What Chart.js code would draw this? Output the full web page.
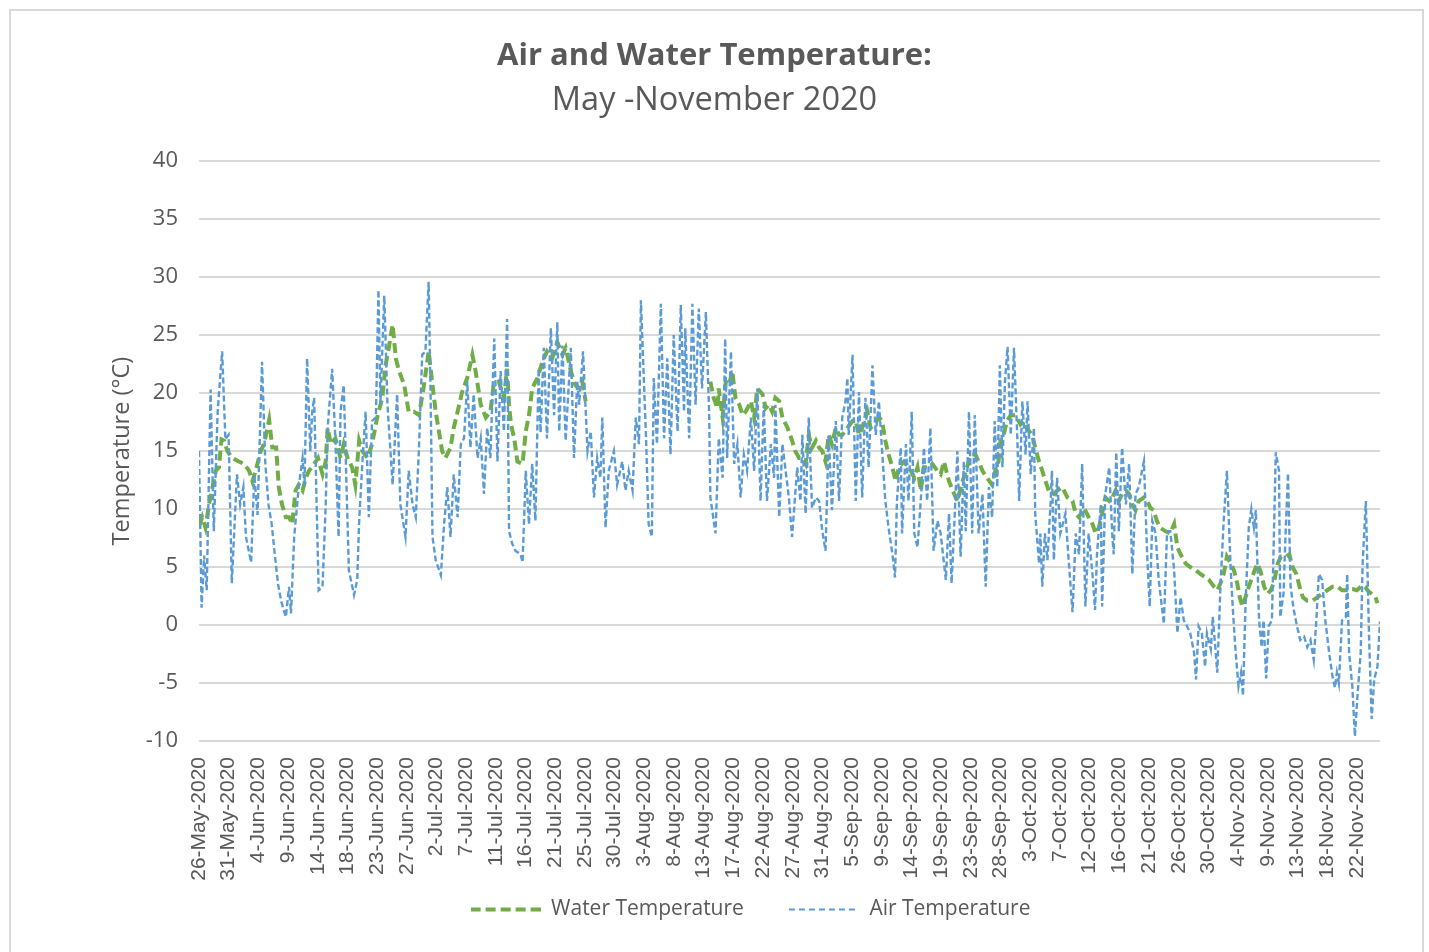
<!DOCTYPE html>
<html>
<head>
<meta charset="utf-8">
<title>Air and Water Temperature</title>
<script src="https://cdn.jsdelivr.net/npm/chart.js@4.4.1/dist/chart.umd.min.js"></script>
<style>
  html, body { margin: 0; padding: 0; background: #fff; overflow: hidden; }
  canvas { position: absolute; left: 0; top: 0; }
  #frame { position: absolute; left: 9px; top: 9px; width: 1415px; height: 980px;
           border: 2px solid #d9d9d9; box-sizing: border-box; pointer-events: none; }
</style>
</head>
<body>
<canvas id="tempChart" width="1429" height="952"></canvas>
<div id="frame"></div>
<script>
// Tick labels shown under the x axis (evenly spaced, one every labelStep days)
const tickLabels = [
  '26-May-2020', '31-May-2020', '4-Jun-2020', '9-Jun-2020', '14-Jun-2020',
  '18-Jun-2020', '23-Jun-2020', '27-Jun-2020', '2-Jul-2020', '7-Jul-2020',
  '11-Jul-2020', '16-Jul-2020', '21-Jul-2020', '25-Jul-2020', '30-Jul-2020',
  '3-Aug-2020', '8-Aug-2020', '13-Aug-2020', '17-Aug-2020', '22-Aug-2020',
  '27-Aug-2020', '31-Aug-2020', '5-Sep-2020', '9-Sep-2020', '14-Sep-2020',
  '19-Sep-2020', '23-Sep-2020', '28-Sep-2020', '3-Oct-2020', '7-Oct-2020',
  '12-Oct-2020', '16-Oct-2020', '21-Oct-2020', '26-Oct-2020', '30-Oct-2020',
  '4-Nov-2020', '9-Nov-2020', '13-Nov-2020', '18-Nov-2020', '22-Nov-2020'
];
const labelStep = 180 / 39;   // days between two tick labels
const lastDay = 183.6;

// Air temperature readings: [days since 26-May, °C]
const airReadings = [
  [0,15],[0.4,1.5],[0.8,6],[1.2,3],[1.8,20.3],[2.3,8.1],[2.9,18.4],[3.6,23.6],[4.1,16],[4.6,16.4],
  [5.1,3.6],[5.9,13],[6.4,10.4],[6.9,11.9],[7.3,7.6],[8.1,5.4],[8.6,13],[9.1,9.5],[9.8,22.7],[10.3,14],
  [10.8,10.4],[11.3,8.7],[11.8,6],[12.3,3.5],[12.8,2],[13.5,0.7],[14.0,3.3],[14.3,1],[14.8,7.6],[15.5,11.9],
  [16.1,14.4],[16.4,12],[16.8,23],[17.3,15],[17.6,18.4],[17.9,19.6],[18.6,3],[19.2,3.3],[19.7,10.4],[20.0,17],
  [20.7,22.1],[21.2,16],[21.7,7.6],[22.0,18.4],[22.5,20.7],[23.3,4.7],[24.1,2.6],[24.6,3.9],[24.9,9],[25.4,14],
  [25.9,18.4],[26.4,9.3],[26.9,17.6],[27.5,17.9],[27.9,28.9],[28.2,19],[28.8,28.4],[29.3,19],[30.1,12.1],[30.8,19.9],
  [31.3,10.4],[32.1,7.6],[32.6,13.3],[33.2,10.4],[33.7,9.3],[34.2,15.3],[34.7,23.3],[35.2,23.6],[35.7,29.6],[36.0,20],
  [36.3,7.6],[36.8,5.6],[37.6,4.3],[38.1,8.7],[38.6,11.9],[39.1,7.6],[39.6,13],[40.2,9.3],[40.7,15.6],[41.2,16.1],
  [41.7,21],[42.2,15.3],[42.7,19.9],[43.3,14.4],[43.8,16.1],[44.3,11.3],[44.8,17],[45.3,14.4],[45.9,24.7],[46.4,14.1],
  [46.9,21.9],[47.4,16.7],[47.9,26.4],[48.2,8.1],[48.7,7],[49.2,6.4],[50.0,6.1],[50.3,5.4],[50.8,13.3],[51.3,8.7],
  [51.8,13.9],[52.3,9],[52.8,22.1],[53.1,16.6],[53.6,23.9],[54.1,16.1],[54.7,25.6],[55.2,18.1],[55.7,26.1],[56.0,16.7],
  [56.5,24.1],[57.0,15.9],[57.8,23.9],[58.3,14.4],[58.8,21],[59.1,19],[59.7,23.6],[60.4,15],[60.9,16.7],[61.4,11],
  [61.9,14.4],[62.4,12.7],[62.7,17.9],[63.2,8.4],[63.7,13.3],[64.5,15],[65.0,12.1],[65.8,14.1],[66.3,11.6],[66.8,13.3],
  [67.4,11.6],[67.9,17.9],[68.4,15.6],[68.7,28],[69.5,16.1],[69.9,8.7],[70.4,7.6],[70.7,21.3],[71.2,15.6],[71.8,27.7],
  [72.3,16.1],[72.8,23],[73.3,14.7],[73.8,25],[74.4,16.7],[74.9,27.6],[75.4,18.4],[75.6,25.6],[76.2,16.1],[76.7,27.7],
  [77.2,19],[77.7,27.3],[78.2,20.4],[78.8,27],[79.3,18.4],[79.5,11],[80.3,7.9],[80.8,16.1],[81.4,12.7],[81.8,24.7],
  [82.1,14.4],[82.7,23.6],[83.2,13.9],[83.7,15.6],[84.2,11],[84.7,14.7],[85.2,13.3],[85.8,17.9],[86.3,13.3],[86.8,20.4],
  [87.3,10.7],[87.8,19],[88.3,10.7],[88.9,15.6],[89.4,12.7],[89.6,19],[90.2,9.3],[90.7,15.6],[91.2,13.3],[91.7,11],
  [92.2,7.6],[93.0,13.6],[93.5,10.7],[93.8,16.4],[94.3,9.6],[94.8,17.9],[95.3,10.1],[95.9,11],[96.4,10.7],[96.9,8.1],
  [97.4,6.4],[97.9,16.4],[98.4,9.9],[99.0,17.6],[99.5,10.7],[100.0,17.9],[100.5,19.3],[100.8,21.3],[101.0,16.4],[101.6,23.3],
  [102.1,10.7],[102.6,20.1],[103.1,11],[103.6,19.6],[104.1,13.6],[104.7,22.4],[105.2,16.4],[105.7,19.3],[106.2,15],[106.7,10.7],
  [107.2,8.4],[107.8,6.1],[108.2,4.1],[108.5,10.7],[109.1,15.3],[109.3,7.9],[109.9,15.6],[110.3,10.7],[110.8,18.4],[111.2,7.9],
  [111.7,6.7],[112.2,10.7],[112.7,15.3],[113.2,10.7],[113.7,17],[114.2,6.4],[114.8,9],[115.3,7.9],[116.1,3.9],[116.6,9.6],
  [117.0,3.6],[117.4,8.4],[117.9,15],[118.4,5.9],[118.9,14.1],[119.2,8.1],[119.7,18.4],[120.2,7.9],[120.6,18.1],[121.2,7.9],
  [121.8,11.3],[122.3,3.3],[122.8,11.9],[123.3,9.3],[123.7,17.6],[124.1,11.9],[124.5,22.4],[124.9,13.6],[125.3,21],[125.7,24],
  [126.2,16.4],[126.7,23.9],[127.2,16.4],[127.5,10.7],[128.0,19.3],[128.5,14.7],[128.8,19.3],[129.3,13],[129.8,17],[130.0,9.6],
  [130.6,5.3],[130.8,7.9],[131.1,3.3],[131.5,7.9],[131.9,5.6],[132.4,10.7],[132.6,13.3],[132.9,5.6],[133.4,12.7],[133.9,7.9],
  [134.7,9.6],[135.2,5.6],[135.8,1.1],[136.3,7.9],[136.8,6.1],[137.3,13.9],[137.8,1.6],[138.3,7.9],[138.9,4.4],[139.3,1.3],
  [139.6,6.1],[140.2,10.4],[140.4,1.6],[140.9,11.3],[141.5,13.6],[142.0,7.6],[142.2,6.1],[142.6,14.9],[143.0,8.1],[143.5,15.3],
  [144.1,10.4],[144.6,13.9],[145.1,4.4],[145.6,11.3],[146.1,11.9],[146.9,14.1],[147.4,6.1],[147.8,1.6],[148.2,9],[148.7,7.9],
  [149.2,3.9],[150.0,0.1],[150.5,8.1],[151.0,8.1],[151.6,4.7],[152.1,-0.7],[152.6,2.4],[153.1,0.4],[153.6,-0.1],[154.1,-0.7],
  [154.7,-2.4],[155.0,-4.7],[155.4,-0.1],[155.9,-0.7],[156.4,-3.6],[156.7,-0.7],[157.3,-2.1],[157.6,0.7],[158.0,-1.9],[158.3,-4.1],
  [158.8,3.3],[159.3,9],[159.8,13.3],[160.4,4.7],[160.7,1.6],[161.1,-1.9],[161.6,-5.3],[162.0,-4.1],[162.3,-6.1],[162.7,1.9],
  [163.2,8.4],[163.6,10],[164.0,8.4],[164.3,9.9],[164.8,0.4],[165.2,-1.9],[165.5,0.4],[165.9,-4.6],[166.3,-0.1],[166.8,0.4],
  [167.4,14.9],[167.9,13.3],[168.1,0.7],[168.6,2.7],[168.9,7.6],[169.3,13.1],[169.7,3.3],[170.2,1.3],[170.7,-0.1],[171.2,-1.3],
  [171.8,-1],[172.3,-1.9],[172.8,-1.3],[173.3,-3],[173.7,0.4],[174.1,4.4],[174.6,3.9],[175.1,0.4],[175.7,-2.4],[176.2,-4.4],
  [176.6,-5.4],[176.9,-4.1],[177.2,-5],[177.7,0.4],[178.3,0.7],[178.5,4.4],[178.8,-2.4],[179.3,-5.3],[179.7,-9.6],[180.1,-6.1],
  [180.6,-2.4],[180.9,5.3],[181.4,10.7],[181.9,-1],[182.3,-8.1],[182.7,-4.7],[183.2,-3.6],[183.6,0.3]
];

// Water temperature readings: [days since 26-May, °C]; null = logger gap
const waterReadings = [
  [0,8.5],[0.5,9.3],[1.0,8.4],[1.55,10.4],[2.1,11.9],[2.6,13.3],[3.1,13.6],[3.5,16],[3.9,15.9],[4.4,15],
  [5.2,14.4],[6.2,14.1],[7.0,13.9],[7.8,13.3],[8.3,12.4],[8.8,13.3],[9.6,15],[10.1,15.6],[10.9,17.7],[11.4,15.3],
  [12.0,15.3],[12.4,11.9],[12.9,10.4],[13.5,9.3],[14.0,9.3],[14.5,8.7],[15.0,11.6],[15.5,12.1],[16.1,11.6],[16.6,12.7],
  [17.1,13.3],[17.9,13.9],[18.5,14.4],[19.2,13],[19.7,14.1],[20.0,17],[20.5,15.6],[21.2,16.1],[22.0,14.4],[22.5,15.6],
  [23.1,14.4],[23.8,13.6],[24.3,12.1],[24.9,15.9],[25.4,15],[26.2,14.4],[26.9,15.6],[27.7,17.9],[28.5,19.6],[29.0,22.4],
  [29.5,23.9],[30.1,25.9],[30.6,23],[31.1,21.9],[31.9,20.7],[32.6,18.4],[33.4,18.4],[34.2,18.1],[34.9,20.4],[35.7,23.6],
  [36.3,20.7],[36.8,18.4],[37.3,16.7],[37.8,15],[38.3,14.4],[39.1,15.3],[39.6,17],[40.2,18.4],[40.9,20.1],[41.7,21.3],
  [42.5,23.3],[43.0,21.9],[43.8,19],[44.6,17.9],[45.3,18.4],[45.8,20.7],[46.6,21],[47.4,19.6],[47.9,22.1],[48.2,19],
  [48.5,17.3],[49.0,16.1],[49.5,14.1],[50.3,13.9],[50.8,16.7],[51.3,18.1],[51.8,20.4],[52.6,21.3],[53.4,22.7],[54.1,23.6],
  [54.9,23],[55.7,24.4],[56.5,23.3],[57.0,23.9],[57.8,21.9],[58.5,20.7],[59.1,20.4],[59.6,21],[60.1,19.3],[70,null],
  [79.5,21],[80.0,19.6],[80.6,18.7],[80.8,20.4],[81.4,17.9],[81.9,21],[82.4,20.7],[82.9,21.9],[83.4,19.6],[84.0,19],
  [84.5,18.1],[85.0,18.4],[85.8,19.3],[86.3,17.9],[86.8,20.4],[87.6,19.9],[88.1,18.7],[88.6,19],[89.1,18.4],[89.6,19.6],
  [90.2,19.3],[90.7,17.9],[91.5,17],[92.2,15.9],[92.7,15],[93.3,14.4],[93.8,14.4],[94.3,13.9],[94.8,16.4],[95.3,15.3],
  [95.9,15.9],[96.4,15.3],[96.9,15],[97.4,14.1],[97.9,16.4],[98.4,15.6],[99.0,17],[99.5,16.4],[100.0,16.4],[100.8,17],
  [101.6,17.6],[102.1,17.6],[102.6,16.4],[103.1,17],[103.9,18.4],[104.4,17],[104.9,17.3],[105.7,17.9],[106.2,17.6],[106.7,15.9],
  [107.2,14.7],[107.8,13.6],[108.3,12.4],[108.8,13.6],[109.6,14.1],[110.4,13.6],[111.2,12.7],[111.7,13.6],[112.2,11.6],[112.7,13.6],
  [113.5,13.6],[114.0,13.9],[114.8,13.3],[115.3,13],[115.8,14.1],[116.6,12.4],[117.4,11.3],[117.9,10.7],[118.7,12.4],[119.4,13.6],
  [120.0,14.7],[120.7,14.7],[121.2,14.1],[121.8,13.3],[122.5,12.7],[123.3,12.1],[123.8,13.3],[124.3,14.1],[124.6,15.9],[125.1,16.4],
  [125.6,17.6],[126.2,18.1],[126.9,18.1],[127.7,17.3],[128.2,17.6],[128.7,17],[129.5,16.4],[130.0,15.3],[130.6,14.1],[131.1,13.3],
  [131.6,12.4],[132.1,11.6],[132.9,11.3],[133.4,11.6],[134.2,11.9],[135.0,11],[135.8,10.7],[136.3,9.6],[136.8,9.3],[137.6,10.1],
  [138.3,9.3],[138.9,8.7],[139.4,7.9],[139.9,8.4],[140.4,9.6],[140.9,11],[141.5,10.7],[142.0,11],[142.5,11.6],[143.0,10.7],
  [143.5,11.3],[144.1,11.6],[144.6,11.3],[145.1,10.4],[145.6,9.9],[146.1,10.7],[146.9,11],[147.4,10.7],[147.9,10.1],[148.4,9.9],
  [148.9,9],[149.4,8.4],[150.2,8.1],[151.0,7.9],[151.6,8.7],[152.1,6.7],[152.6,6.1],[153.4,5.3],[154.1,5],[155.0,4.7],
  [155.7,4.4],[156.5,4.1],[157.0,3.9],[157.8,3.3],[158.3,3],[158.8,3.6],[159.3,4.4],[159.8,5.9],[160.4,5.3],[160.9,4.7],
  [161.4,3.6],[161.8,2.4],[162.2,1.6],[162.7,2.4],[163.2,3.3],[163.7,4.1],[164.5,5.3],[165.0,4.7],[165.6,3.3],[166.1,2.7],
  [166.6,3],[167.1,3.6],[167.7,5.3],[168.2,5.9],[169.0,5.9],[169.5,6.1],[170.0,5],[170.6,4.4],[171.1,3.3],[171.6,2.4],
  [172.3,2.1],[173.1,2.1],[173.9,2.4],[174.6,2.7],[175.4,3],[176.2,3.3],[177.0,3.3],[177.7,3],[178.5,3],[179.3,3.1],
  [180.0,3],[180.8,3.4],[181.3,3.3],[181.8,2.9],[182.3,2.7],[182.9,2.4],[183.2,1.9]
];

const toPoints = rows => rows.map(([d, t]) => ({ x: d, y: t }));
const grey = '#595959';
const airColor = '#5B9BD5';
const waterColor = '#70AD47';

// little dashed-line swatch used as the legend marker
function dashSwatch(color, lineWidth, dash) {
  const c = document.createElement('canvas');
  c.width = 70;
  c.height = 8;
  const g = c.getContext('2d');
  g.strokeStyle = color;
  g.lineWidth = lineWidth;
  g.setLineDash(dash);
  g.beginPath();
  g.moveTo(0, 4);
  g.lineTo(70, 4);
  g.stroke();
  return c;
}

// Excel puts the legend a bit right of centre and close under the labels.
// Only the top moves up, so the legend's clip box still holds the row.
const legendNudge = {
  id: 'legendNudge',
  afterLayout(chart) {
    const lg = chart.legend;
    lg.left += 36;
    lg.right += 36;
    lg.top -= 37;
  }
};

new Chart(document.getElementById('tempChart'), {
  type: 'line',
  data: {
    datasets: [
      {
        label: 'Air Temperature',
        data: toPoints(airReadings),
        borderColor: airColor,
        backgroundColor: airColor,
        borderWidth: 2.4,
        borderDash: [6, 3],
        pointRadius: 0,
        pointStyle: dashSwatch(airColor, 2, [6, 4]),
        tension: 0,
        fill: false
      },
      {
        label: 'Water Temperature',
        data: toPoints(waterReadings),
        borderColor: waterColor,
        backgroundColor: waterColor,
        borderWidth: 4,
        borderDash: [10, 5],
        pointRadius: 0,
        pointStyle: dashSwatch(waterColor, 4, [10, 5]),
        tension: 0,
        fill: false,
        spanGaps: false
      }
    ]
  },
  options: {
    responsive: false,
    animation: false,
    devicePixelRatio: 1,
    layout: { padding: { left: 49, right: 49, top: 0, bottom: 20 } },
    plugins: {
      title: {
        display: true,
        text: 'Air and Water Temperature:',
        color: grey,
        font: { family: 'Open Sans', size: 31, weight: 'bold' },
        padding: { top: 38, bottom: 5 }
      },
      subtitle: {
        display: true,
        text: 'May -November 2020',
        color: grey,
        font: { family: 'Open Sans', size: 32.5 },
        padding: { top: 1, bottom: 41 }
      },
      legend: {
        position: 'bottom',
        reverse: true,
        maxHeight: 41,
        labels: {
          usePointStyle: true,
          pointStyleWidth: 70,
          color: grey,
          font: { family: 'Open Sans', size: 21 },
          padding: 45
        }
      },
      tooltip: { enabled: false }
    },
    scales: {
      x: {
        type: 'linear',
        min: 0,
        max: lastDay,
        grid: { display: false, drawTicks: false },
        border: { display: false },
        afterBuildTicks: scale => {
          scale.ticks = tickLabels.map((_, i) => ({ value: i * labelStep }));
        },
        afterFit: scale => { scale.height = 150; },
        ticks: {
          autoSkip: false,
          maxRotation: 90,
          minRotation: 90,
          padding: 16,
          color: grey,
          font: { family: 'Liberation Sans', size: 21 },
          callback: (value, index) => tickLabels[index]
        }
      },
      y: {
        min: -10,
        max: 40,
        afterFit: scale => { scale.width = 150; },
        grid: { color: '#d9d9d9', lineWidth: 2, drawTicks: false },
        border: { display: false },
        ticks: {
          stepSize: 5,
          padding: 21,
          color: grey,
          font: { family: 'Open Sans', size: 22 }
        },
        title: {
          display: true,
          text: 'Temperature (°C)',
          color: grey,
          font: { family: 'Open Sans', size: 23.5 },
          padding: { top: 59 }
        }
      }
    }
  },
  plugins: [legendNudge]
});
</script>
</body>
</html>
